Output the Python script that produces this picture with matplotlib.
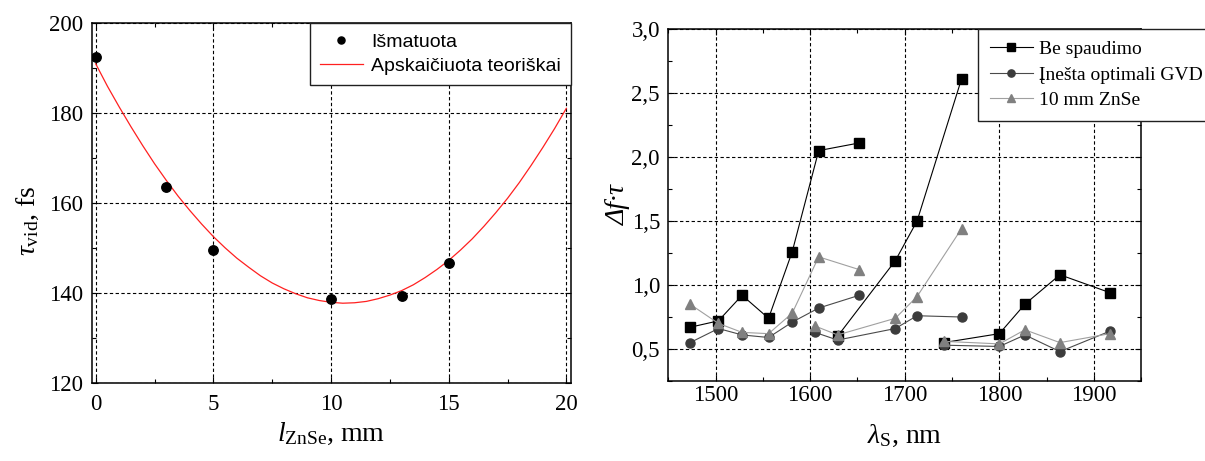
import matplotlib
matplotlib.use("Agg")
import matplotlib.pyplot as plt
from matplotlib.ticker import MultipleLocator, FuncFormatter

plt.rcParams['font.family'] = ['Liberation Serif', 'DejaVu Serif']
plt.rcParams['mathtext.fontset'] = 'custom'
plt.rcParams['mathtext.rm'] = 'Liberation Serif'
plt.rcParams['mathtext.it'] = 'Liberation Serif:italic'

# left panel: pulse duration vs ZnSe length
meas_x = [0, 3, 5, 10, 13, 15]
meas_y = [192.6, 163.6, 149.6, 138.7, 139.3, 146.7]
theory_x = [i * 0.5 for i in range(41)]
theory_y = [191.0, 186.0, 181.4, 177.0, 172.8, 168.8, 165.1, 161.6, 158.4, 155.4,
            152.6, 150.1, 147.8, 145.8, 143.9, 142.3, 141.0, 139.9, 139.0, 138.4,
            138.0, 137.8, 137.9, 138.2, 138.8, 139.6, 140.6, 141.9, 143.5, 145.3,
            147.3, 149.6, 152.1, 154.9, 157.9, 161.1, 164.6, 168.4, 172.4, 176.6, 181.1]

# right panel: time-bandwidth product, three separate runs per series
be_x = [[1473, 1503, 1528, 1556, 1581, 1609, 1652],
        [1629, 1690, 1713, 1760],
        [1741, 1800, 1827, 1864, 1917]]
be_y = [[0.67, 0.72, 0.92, 0.74, 1.26, 2.05, 2.11],
        [0.60, 1.19, 1.50, 2.61],
        [0.55, 0.62, 0.85, 1.08, 0.94]]
gvd_x = [[1473, 1503, 1528, 1556, 1581, 1609, 1652],
         [1605, 1629, 1690, 1713, 1760],
         [1741, 1800, 1827, 1864, 1917]]
gvd_y = [[0.55, 0.66, 0.61, 0.59, 0.71, 0.82, 0.92],
         [0.63, 0.57, 0.66, 0.76, 0.75],
         [0.53, 0.52, 0.61, 0.48, 0.64]]
znse_x = [[1473, 1503, 1528, 1556, 1581, 1609, 1652],
          [1605, 1629, 1690, 1713, 1760],
          [1741, 1800, 1827, 1864, 1917]]
znse_y = [[0.85, 0.70, 0.63, 0.62, 0.78, 1.22, 1.12],
          [0.68, 0.61, 0.74, 0.91, 1.44],
          [0.56, 0.54, 0.65, 0.55, 0.62]]

fig = plt.figure(figsize=(12.05, 4.61), dpi=100)
ax1 = fig.add_axes([0.0761, 0.1685, 0.3978, 0.781])
ax2 = fig.add_axes([0.5546, 0.1735, 0.3925, 0.7636])

grid_kw = dict(color='black', linestyle=(0, (3.0, 2.2)), linewidth=0.8)

# ---- left
ax1.plot(theory_x, theory_y, color='#ff2020', lw=0.9, label='Apskaičiuota teoriškai', zorder=3)
ax1.plot(meas_x, meas_y, 'o', color='black', ms=6.8, label='Išmatuota', zorder=4)
ax1.set_xlim(-0.17, 20.2)
ax1.set_ylim(120, 200)
ax1.xaxis.set_major_locator(MultipleLocator(5))
ax1.xaxis.set_minor_locator(MultipleLocator(2.5))
ax1.yaxis.set_major_locator(MultipleLocator(20))
ax1.yaxis.set_minor_locator(MultipleLocator(10))
ax1.grid(True, which='major', **grid_kw)
ax1.set_xlabel(r'$l_{\mathrm{ZnSe}}$, mm', fontsize=20)
ax1.set_ylabel(r'$\tau_{\mathrm{vid}}$, fs', fontsize=20)
ax1.xaxis.set_label_coords(0.5, -0.105)
ax1.yaxis.set_label_coords(-0.105, 0.45)
h, l = ax1.get_legend_handles_labels()
leg1 = ax1.legend(h[::-1], l[::-1], loc='upper right', bbox_to_anchor=(1, 1), borderaxespad=0,
                  fancybox=False, framealpha=1, edgecolor='#202020', numpoints=1,
                  markerscale=0.75, handlelength=2.2, handletextpad=0.45, labelspacing=0.35,
                  borderpad=0.5, prop={'family': 'Liberation Sans', 'size': 14})
leg1.get_frame().set_linewidth(1.0)

# ---- right
series = [
    (be_x, be_y, 's', 'black', 'black', 6.8, 'Be spaudimo'),
    (gvd_x, gvd_y, 'o', '#3c3c3c', '#4a4a4a', 6.5, 'Įnešta optimali GVD'),
    (znse_x, znse_y, '^', '#808080', '#a0a0a0', 7.0, '10 mm ZnSe'),
]
for i, (xs, ys, mk, mc, lc, ms, lab) in enumerate(series):
    for j, (xx, yy) in enumerate(zip(xs, ys)):
        ax2.plot(xx, yy, color=lc, lw=0.8, marker=mk, ms=ms, mfc=mc, mec=mc,
                 label=lab if j == 0 else None, zorder=3 + i)
ax2.set_xlim(1450, 1950)
ax2.set_ylim(0.25, 3.0)
ax2.xaxis.set_major_locator(MultipleLocator(100))
ax2.xaxis.set_minor_locator(MultipleLocator(50))
ax2.yaxis.set_major_locator(MultipleLocator(0.5))
ax2.yaxis.set_minor_locator(MultipleLocator(0.25))
ax2.yaxis.set_major_formatter(FuncFormatter(lambda v, p: f'{v:.1f}'.replace('.', ',')))
ax2.grid(True, which='major', **grid_kw)
ax2.set_xlabel(r'$\lambda_{\mathrm{S}}$, nm', fontsize=20)
ax2.set_ylabel('Δf·τ', fontsize=20, style='italic')
ax2.xaxis.set_label_coords(0.5, -0.12)
ax2.yaxis.set_label_coords(-0.08, 0.5)
leg2 = ax2.legend(loc='upper left', bbox_to_anchor=(0.8119, 0.9371), bbox_transform=fig.transFigure,
                  borderaxespad=0, fancybox=False, framealpha=1, edgecolor='#202020',
                  handlelength=2.2, handletextpad=0.3, labelspacing=0.4, borderpad=0.6,
                  markerscale=0.8, prop={'size': 14})
leg2.get_frame().set_linewidth(1.0)

for ax, pad in ((ax1, 8), (ax2, 3)):
    ax.tick_params(which='both', direction='in', top=True, right=True, labelsize=16.5, color='black')
    ax.tick_params(axis='x', which='both', pad=pad)
    ax.tick_params(axis='y', which='both', pad=6)
    ax.tick_params(which='major', length=4, width=0.8)
    ax.tick_params(which='minor', length=3, width=0.8)
    for s in ax.spines.values():
        s.set_linewidth(1.1)
        s.set_color('black')
    ax.set_axisbelow(True)

fig.savefig('out.png', dpi=100)
